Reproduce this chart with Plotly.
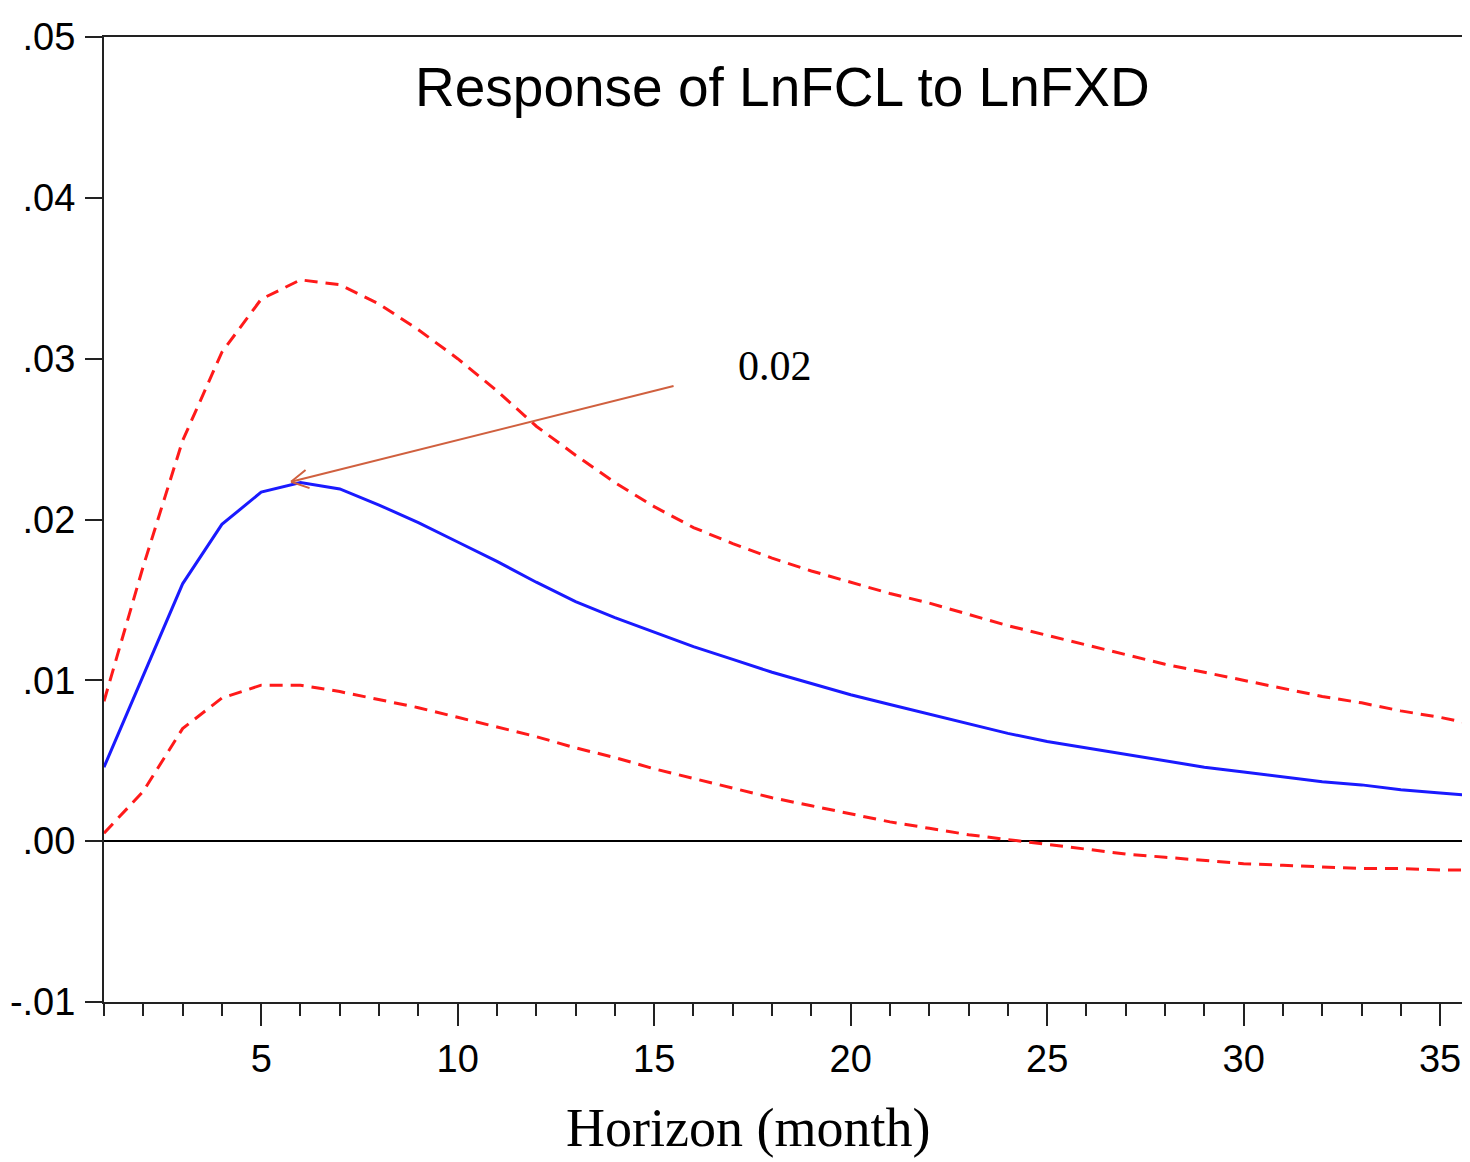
import plotly.graph_objects as go

horizon = list(range(1, 37))
response = [0.0046, 0.0103, 0.0160, 0.0197, 0.0217, 0.0223, 0.0219, 0.0209, 0.0198, 0.0186,
            0.0174, 0.0161, 0.0149, 0.0139, 0.0130, 0.0121, 0.0113, 0.0105, 0.0098, 0.0091,
            0.0085, 0.0079, 0.0073, 0.0067, 0.0062, 0.0058, 0.0054, 0.0050, 0.0046, 0.0043,
            0.0040, 0.0037, 0.0035, 0.0032, 0.0030, 0.0028]
upper = [0.0087, 0.0171, 0.0249, 0.0304, 0.0337, 0.0349, 0.0346, 0.0334, 0.0318, 0.0300,
         0.0280, 0.0258, 0.0240, 0.0223, 0.0208, 0.0195, 0.0185, 0.0176, 0.0168, 0.0161,
         0.0154, 0.0148, 0.0141, 0.0134, 0.0128, 0.0122, 0.0116, 0.0110, 0.0105, 0.0100,
         0.0095, 0.0090, 0.0086, 0.0081, 0.0077, 0.0072]
lower = [0.0005, 0.0031, 0.0070, 0.0089, 0.0097, 0.0097, 0.0093, 0.0088, 0.0083, 0.0077,
         0.0071, 0.0065, 0.0058, 0.0052, 0.0045, 0.0039, 0.0033, 0.0027, 0.0022, 0.0017,
         0.0012, 0.0008, 0.0004, 0.0001, -0.0002, -0.0005, -0.0008, -0.0010, -0.0012, -0.0014,
         -0.0015, -0.0016, -0.0017, -0.0017, -0.0018, -0.0018]

y_tickvals = [-0.01, 0.0, 0.01, 0.02, 0.03, 0.04, 0.05]
y_ticktext = ["-.01", ".00", ".01", ".02", ".03", ".04", ".05"]
x_tickvals = [5, 10, 15, 20, 25, 30, 35]

title_text = "Response of LnFCL to LnFXD"
xaxis_title = "Horizon (month)"
peak_label = "0.02"
peak_x, peak_y = 5.76, 0.02235

sans = "Liberation Sans, Arial, sans-serif"
serif = "Liberation Serif, Times New Roman, serif"

fig = go.Figure()
fig.add_trace(go.Scatter(x=horizon, y=upper, mode="lines",
                         line=dict(color="#FF1A1A", width=3, dash="13px,8px"), showlegend=False))
fig.add_trace(go.Scatter(x=horizon, y=lower, mode="lines",
                         line=dict(color="#FF1A1A", width=3, dash="13px,8px"), showlegend=False))
fig.add_trace(go.Scatter(x=horizon, y=response, mode="lines",
                         line=dict(color="#1A1AFF", width=3), showlegend=False))

# page body has an 8px margin, so the figure is sized/offset to compensate
fig.update_layout(
    width=1462, height=1154,
    margin=dict(l=96, r=0, t=29, b=160, pad=0),
    paper_bgcolor="white", plot_bgcolor="white",
    font=dict(family=sans, color="black"),
)
fig.update_xaxes(
    range=[1, 35.76], tickvals=x_tickvals, ticks="outside", ticklen=22, tickwidth=2,
    tickcolor="#222", showline=True, linecolor="#222", linewidth=2, mirror=True,
    showgrid=False, zeroline=False, automargin=False,
    tickfont=dict(size=38, family=sans, color="black"),
    minor=dict(dtick=1, tick0=0, ticks="outside", ticklen=12, tickwidth=2, tickcolor="#222", showgrid=False),
)
fig.update_yaxes(
    range=[-0.01, 0.05], tickvals=y_tickvals, ticktext=y_ticktext, ticks="outside",
    ticklen=17, tickwidth=2, tickcolor="#222", showline=True, linecolor="#222", linewidth=2,
    showgrid=False, zeroline=True, zerolinecolor="black", zerolinewidth=2, automargin=False,
    tickfont=dict(size=38, family=sans, color="black"), ticklabelstandoff=2,
)

fig.add_annotation(text=title_text, xref="paper", yref="paper", x=0.497, y=0.948,
                   xanchor="center", yanchor="middle",
                   showarrow=False, font=dict(size=55, family=sans, color="black"))

fig.add_annotation(text=xaxis_title, xref="paper", yref="paper", x=0.4715, y=-0.131,
                   xanchor="center", yanchor="middle",
                   showarrow=False, font=dict(size=54, family=serif, color="black"))

arrow_color = "#D0603F"
# shaft
fig.add_annotation(x=peak_x, y=peak_y, xref="x", yref="y", text="", showarrow=True,
                   arrowhead=0, ax=384, ay=-96, arrowcolor=arrow_color, arrowwidth=2)
# head
fig.add_annotation(x=peak_x, y=peak_y, xref="x", yref="y", text="", showarrow=True,
                   arrowhead=0, ax=16, ay=-13, arrowcolor=arrow_color, arrowwidth=2)
fig.add_annotation(x=peak_x, y=peak_y, xref="x", yref="y", text="", showarrow=True,
                   arrowhead=0, ax=20, ay=7, arrowcolor=arrow_color, arrowwidth=2)
# label
fig.add_annotation(x=peak_x, y=peak_y, xref="x", yref="y", text=peak_label, showarrow=False,
                   xanchor="center", yanchor="middle",
                   xshift=484, yshift=116, font=dict(size=42, family=serif, color="black"))

fig.write_html("out.html")
